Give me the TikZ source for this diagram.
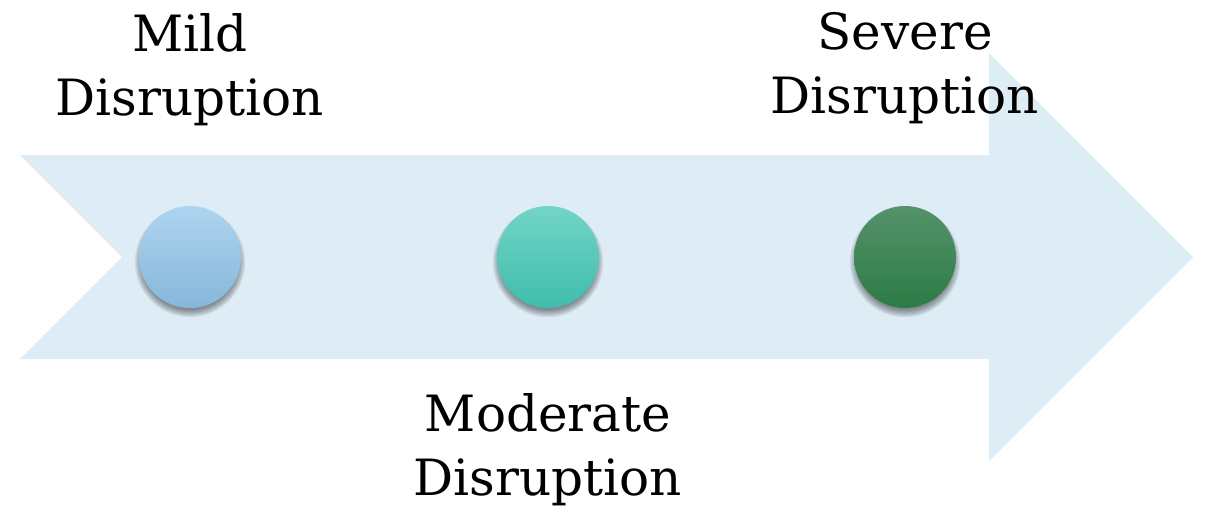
\documentclass[tikz,border=0pt]{standalone}
\usepackage{fontspec}
\setmainfont{DejaVu Serif}
\usetikzlibrary{calc}
\definecolor{band}{HTML}{DEECF6}
\definecolor{blueTop}{HTML}{AED4F0}
\definecolor{blueBot}{HTML}{86B7DA}
\definecolor{tealTop}{HTML}{72D4C6}
\definecolor{tealBot}{HTML}{40BDAC}
\definecolor{greenTop}{HTML}{55926A}
\definecolor{greenBot}{HTML}{2C7B45}
\tikzset{
  dot/.style={circle, minimum size=102pt, inner sep=0pt},
  label/.style={font=\fontsize{50}{64}\selectfont, align=center, text=black},
}
% soft drop shadow: stacked translucent discs, shifted downwards
\newcommand{\softshadow}[1]{%
  \foreach \k in {0,...,6}{%
    \fill[black, opacity=0.07] ($(#1)+(0,5)$) circle ({48+1.2*\k});
  }%
}
\begin{document}
\begin{tikzpicture}[x=1pt,y=-1pt]
  \useasboundingbox (0,0) rectangle (1206,511);
  % chevron arrow
  \fill[band] (20,155) -- (989,155) -- (989,53) -- (1193,257) -- (989,461)
    -- (989,359) -- (20,359) -- (122,257) -- cycle;
  % shadows under the dots
  \softshadow{190,257}
  \softshadow{548,257}
  \softshadow{905,257}
  % dots
  \node[dot, top color=blueTop, bottom color=blueBot] (d1) at (190,257) {};
  \node[dot, top color=tealTop, bottom color=tealBot] (d2) at (548,257) {};
  \node[dot, top color=greenTop, bottom color=greenBot] (d3) at (905,257) {};
  % labels
  \node[label] (l1) at (190,70) {Mild\\Disruption};
  \node[label] (l2) at (548,450) {Moderate\\Disruption};
  \node[label] (l3) at (905,68) {Severe\\Disruption};
\end{tikzpicture}
\end{document}
